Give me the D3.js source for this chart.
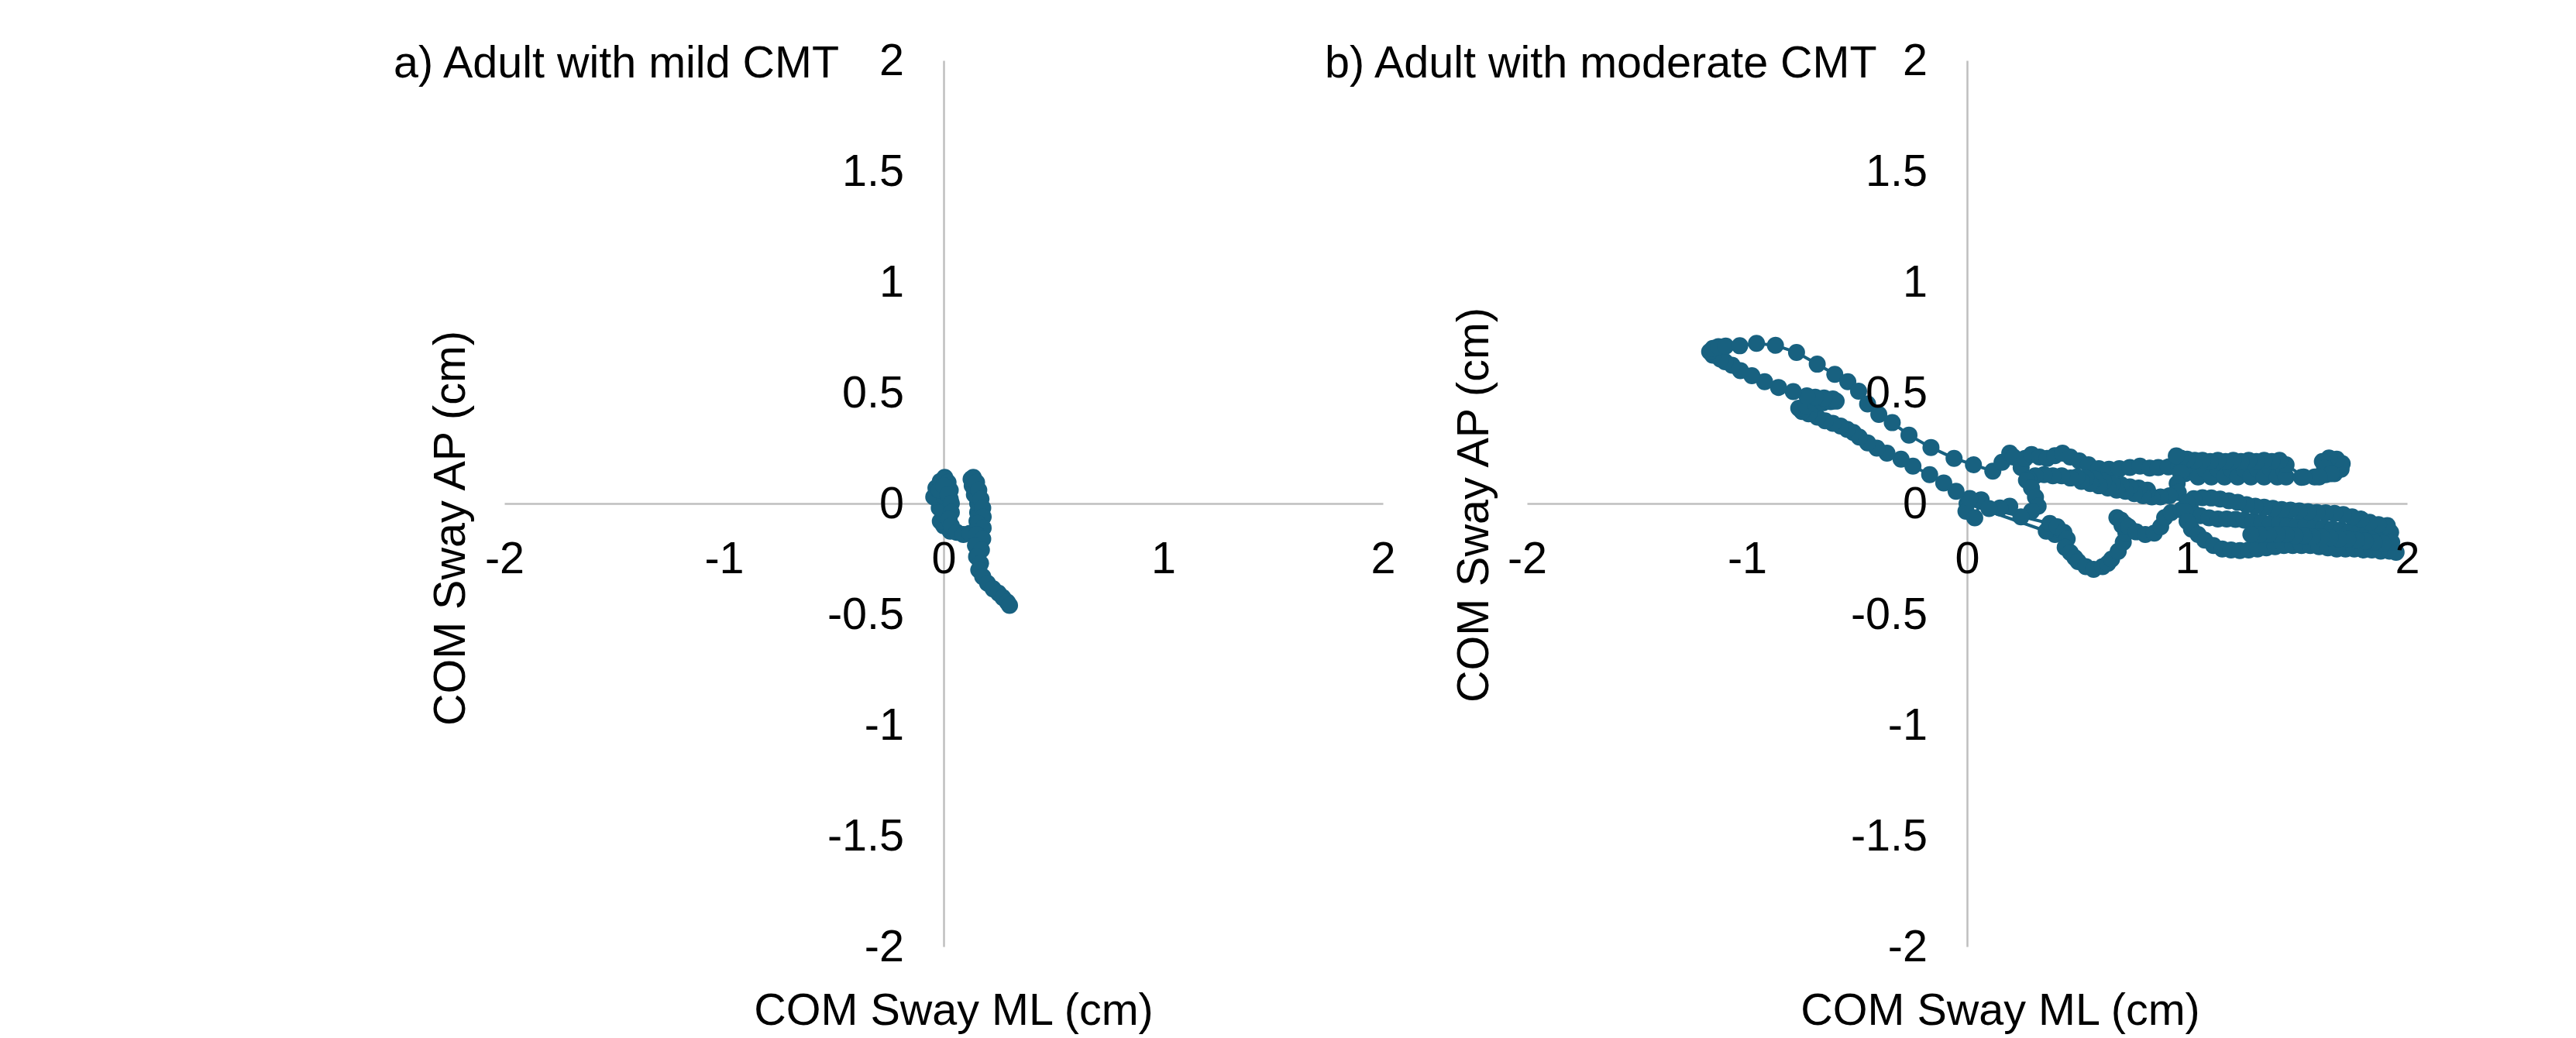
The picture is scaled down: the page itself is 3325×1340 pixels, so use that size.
<!DOCTYPE html>
<html><head><meta charset="utf-8">
<script src="https://cdn.jsdelivr.net/npm/d3@7"></script>
<style>html,body{margin:0;padding:0;background:#fff;} svg{display:block;}</style>
</head><body>
<svg id="chart" width="3325" height="1340"></svg>
<script>
// ---------- data ----------
const xTicks = [-2, -1, 0, 1, 2];
const yTicks = [-2, -1.5, -1, -0.5, 0, 0.5, 1, 1.5, 2];
const titles = ["a) Adult with mild CMT", "b) Adult with moderate CMT"];
const xAxisTitle = "COM Sway ML (cm)";
const yAxisTitle = "COM Sway AP (cm)";

// [ML, AP] in cm
const mildCMT = [
 [0.03,-0.125],[0.0,-0.10],[-0.015,-0.08],[0.0,-0.05],[-0.02,-0.02],[-0.045,0.03],[-0.035,0.07],[-0.015,0.10],
 [0.005,0.118],[0.02,0.095],[0.03,0.06],[0.03,0.02],[0.005,0.03],[-0.02,0.06],[0.0,0.08],[0.02,0.04],
 [0.035,0.0],[0.035,-0.04],[0.025,-0.07],[0.035,-0.10],[0.06,-0.13],[0.09,-0.14],[0.12,-0.135],[0.152,-0.08],
 [0.155,-0.04],[0.155,0.0],[0.14,0.04],[0.13,0.08],[0.125,0.11],[0.135,0.118],[0.15,0.095],[0.16,0.06],
 [0.17,0.02],[0.178,-0.02],[0.18,-0.06],[0.155,-0.09],[0.18,-0.11],[0.15,-0.14],[0.178,-0.16],[0.145,-0.19],
 [0.172,-0.21],[0.15,-0.24],[0.168,-0.27],[0.16,-0.30],[0.178,-0.33],[0.20,-0.36],[0.225,-0.385],[0.25,-0.405],
 [0.27,-0.425],[0.29,-0.445],[0.30,-0.46]
];

const moderateCMT = [
 [0.40,-0.14],[0.36,-0.125],[0.0,0.0],[-0.005,-0.035],[0.035,-0.065],[0.064,0.017],[0.012,0.023],
 [-0.05,0.055],[-0.106,0.093],[-0.17,0.13],[-0.246,0.169],[-0.30,0.20],[-0.364,0.227],[-0.41,0.25],
 [-0.452,0.274],[-0.49,0.30],[-0.517,0.321],[-0.545,0.335],[-0.575,0.35],[-0.61,0.362],[-0.645,0.373],
 [-0.68,0.39],[-0.72,0.405],[-0.75,0.415],[-0.765,0.43],[-0.73,0.44],[-0.69,0.45],[-0.655,0.455],
 [-0.62,0.46],[-0.595,0.462],[-0.61,0.472],[-0.65,0.476],[-0.69,0.48],[-0.728,0.486],[-0.79,0.505],
 [-0.857,0.524],[-0.92,0.55],[-0.978,0.577],[-1.03,0.60],[-1.068,0.624],[-1.10,0.64],[-1.121,0.652],
 [-1.156,0.670],[-1.17,0.685],
 [-1.155,0.70],[-1.13,0.708],[-1.097,0.711],[-1.033,0.712],[-0.957,0.723],[-0.871,0.714],[-0.775,0.682],
 [-0.681,0.629],[-0.601,0.583],[-0.542,0.550],[-0.493,0.507],[-0.452,0.449],[-0.401,0.402],[-0.340,0.365],
 [-0.264,0.309],[-0.164,0.253],[-0.059,0.204],[0.029,0.175],
 [0.117,0.146],[0.159,0.186],[0.194,0.227],[0.211,0.210],[0.246,0.163],[0.264,0.204],[0.293,0.221],
 [0.329,0.210],[0.364,0.204],[0.399,0.216],[0.434,0.227],[0.469,0.210],[0.510,0.192],[0.552,0.175],
 [0.599,0.157],[0.645,0.155],[0.692,0.157],[0.74,0.163],[0.786,0.169],[0.83,0.16],[0.869,0.163],
 [0.915,0.165],[0.962,0.169],
 [0.99,0.135],[1.02,0.16],[1.05,0.12],[1.08,0.155],[1.11,0.12],[1.14,0.155],[1.17,0.12],[1.20,0.155],
 [1.23,0.12],[1.26,0.155],[1.29,0.12],[1.32,0.155],[1.35,0.12],[1.38,0.155],[1.41,0.12],[1.44,0.15],[1.45,0.12],
 [1.52,0.118],[1.58,0.12],[1.63,0.13],[1.67,0.135],[1.70,0.155],[1.705,0.18],[1.68,0.20],[1.645,0.205],
 [1.615,0.19],[1.625,0.16],[1.655,0.135],[1.60,0.12],[1.53,0.12],
 [1.45,0.175],[1.42,0.195],[1.385,0.19],[1.35,0.195],[1.315,0.19],[1.28,0.195],[1.245,0.19],[1.21,0.195],
 [1.175,0.19],[1.14,0.195],[1.105,0.19],[1.07,0.195],[1.035,0.195],[1.0,0.2],[0.97,0.205],[0.951,0.215],
 [0.97,0.14],[0.955,0.09],[0.96,0.05],[0.92,0.035],[0.88,0.03],[0.84,0.03],[0.82,0.06],[0.80,0.035],
 [0.78,0.07],[0.76,0.045],[0.74,0.075],[0.72,0.055],[0.70,0.085],[0.68,0.06],[0.66,0.09],[0.64,0.07],
 [0.62,0.10],[0.60,0.08],[0.58,0.11],[0.56,0.09],[0.54,0.115],[0.52,0.10],[0.50,0.12],[0.47,0.115],
 [0.43,0.125],[0.39,0.125],[0.35,0.13],[0.31,0.125],[0.28,0.11],
 [0.27,0.105],[0.293,0.07],[0.311,0.029],[0.323,-0.012],[0.293,-0.035],[0.245,-0.06],[0.194,-0.012],
 [0.15,-0.02],[0.10,-0.023],
 [0.376,-0.09],[0.41,-0.105],[0.44,-0.13],[0.455,-0.16],[0.446,-0.198],[0.469,-0.221],[0.49,-0.245],
 [0.505,-0.262],[0.540,-0.285],[0.575,-0.297],[0.616,-0.285],[0.64,-0.27],[0.657,-0.251],[0.687,-0.216],
 [0.710,-0.175],[0.722,-0.134],[0.704,-0.099],[0.681,-0.064],[0.70,-0.075],[0.72,-0.095],[0.734,-0.105],
 [0.769,-0.128],[0.810,-0.140],[0.851,-0.134],[0.880,-0.105],[0.898,-0.064],[0.927,-0.041],[0.974,-0.029],
 [1.021,-0.035],
 [1.06,-0.055],[1.10,-0.065],[1.14,-0.07],[1.18,-0.07],[1.22,-0.072],[1.26,-0.075],[1.30,-0.08],[1.34,-0.085],
 [1.38,-0.09],[1.42,-0.09],[1.46,-0.095],[1.50,-0.10],[1.54,-0.10],[1.58,-0.105],[1.62,-0.11],[1.66,-0.115],
 [1.70,-0.12],[1.74,-0.125],[1.78,-0.13],[1.82,-0.135],[1.86,-0.14],[1.90,-0.145],[1.925,-0.13],
 [1.91,-0.10],[1.87,-0.095],[1.83,-0.085],[1.79,-0.07],[1.75,-0.06],[1.71,-0.05],[1.67,-0.045],[1.63,-0.042],
 [1.59,-0.04],[1.55,-0.037],[1.51,-0.033],[1.47,-0.03],[1.43,-0.027],[1.39,-0.022],[1.35,-0.017],[1.31,-0.012],
 [1.27,-0.005],[1.23,0.005],[1.19,0.012],[1.15,0.02],[1.11,0.025],[1.07,0.026],[1.03,0.022],[1.0,0.005],
 [0.99,-0.035],[1.0,-0.08],[1.02,-0.115],[1.05,-0.14],
 [1.08,-0.165],[1.12,-0.19],[1.16,-0.205],[1.20,-0.21],[1.24,-0.212],[1.28,-0.21],[1.32,-0.205],[1.36,-0.2],
 [1.40,-0.195],[1.44,-0.19],[1.48,-0.19],[1.52,-0.19],[1.56,-0.19],[1.60,-0.195],[1.64,-0.2],[1.68,-0.205],
 [1.72,-0.205],[1.76,-0.205],[1.80,-0.21],[1.84,-0.21],[1.88,-0.215],[1.92,-0.215],[1.95,-0.22],
 [1.93,-0.175],[1.89,-0.18],[1.85,-0.175],[1.81,-0.17],[1.77,-0.165],[1.73,-0.16],[1.69,-0.16],[1.65,-0.155],
 [1.61,-0.15],[1.57,-0.15],[1.53,-0.145],[1.49,-0.145],[1.45,-0.14],[1.41,-0.14],[1.37,-0.14],[1.33,-0.14],
 [1.29,-0.14]
];

// ---------- layout ----------
const FONT = "'Liberation Sans', Arial, sans-serif";
const FS = 57.5;
const COLOR = "#186180";
const AXIS_COLOR = "#bfbfbf";
const yRange = [1222, 78];

const panels = [
  {data: mildCMT, title: titles[0], xRange: [651, 1785], titleX: 508, yLabX: 600, yLabY: 682, xLabX: 1231},
  {data: moderateCMT, title: titles[1], xRange: [1971, 3107], titleX: 1710, yLabX: 1921, yLabY: 652, xLabX: 2582}
];

const svg = d3.select("#chart");
svg.append("rect").attr("width", 3325).attr("height", 1340).attr("fill", "#fff");

const fmt = d => String(d);

panels.forEach(p => {
  const x = d3.scaleLinear().domain([-2, 2]).range(p.xRange);
  const y = d3.scaleLinear().domain([-2, 2]).range(yRange);
  const g = svg.append("g");

  // axis lines (under the series)
  const xAxisLine = g.append("g").attr("transform", `translate(0,${y(0)})`)
    .call(d3.axisBottom(x).tickValues(xTicks).tickSize(0).tickSizeOuter(0).tickFormat(""));
  const yAxisLine = g.append("g").attr("transform", `translate(${x(0)},0)`)
    .call(d3.axisLeft(y).tickValues(yTicks).tickSize(0).tickSizeOuter(0).tickFormat(""));
  [xAxisLine, yAxisLine].forEach(a => a.select(".domain").attr("stroke", AXIS_COLOR).attr("stroke-width", 2.5));

  // series
  const line = d3.line().x(d => x(d[0])).y(d => y(d[1]));
  g.append("path").datum(p.data).attr("d", line)
    .attr("fill", "none").attr("stroke", COLOR).attr("stroke-width", 4).attr("stroke-linejoin", "round");
  g.append("g").selectAll("circle").data(p.data).join("circle")
    .attr("cx", d => x(d[0])).attr("cy", d => y(d[1])).attr("r", 11).attr("fill", COLOR);

  // tick labels (on top)
  const xl = g.append("g").attr("transform", `translate(0,${y(0)})`)
    .call(d3.axisBottom(x).tickValues(xTicks).tickSize(0).tickPadding(49).tickFormat(fmt));
  const yl = g.append("g").attr("transform", `translate(${x(0)},0)`)
    .call(d3.axisLeft(y).tickValues(yTicks).tickSize(0).tickPadding(51).tickFormat(fmt));
  [xl, yl].forEach(a => {
    a.select(".domain").remove();
    a.attr("font-family", FONT).attr("font-size", FS);
    a.selectAll("text").attr("fill", "#000");
  });

  // titles
  g.append("text").attr("x", p.titleX).attr("y", 100).text(p.title)
    .attr("font-family", FONT).attr("font-size", FS).attr("fill", "#000");
  g.append("text").attr("x", p.xLabX).attr("y", 1323).attr("text-anchor", "middle").text(xAxisTitle)
    .attr("font-family", FONT).attr("font-size", FS).attr("fill", "#000");
  g.append("text").attr("transform", `translate(${p.yLabX},${p.yLabY}) rotate(-90)`)
    .attr("text-anchor", "middle").text(yAxisTitle)
    .attr("font-family", FONT).attr("font-size", FS).attr("fill", "#000");
});
</script>
</body></html>
